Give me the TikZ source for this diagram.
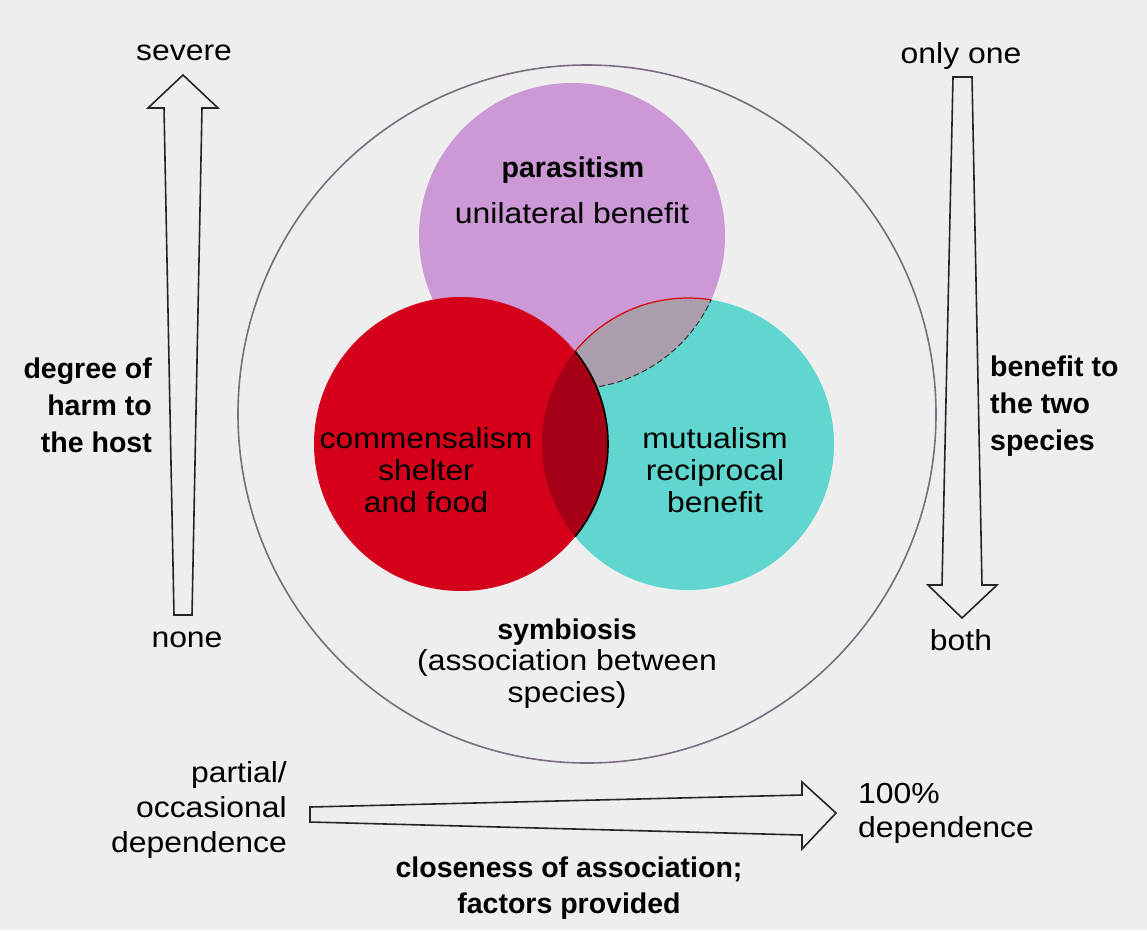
\documentclass[tikz,border=0pt]{standalone}
\usepackage{fontspec}
\setmainfont{Liberation Sans}
\newfontfamily\rf{Liberation Sans}[FakeStretch=1.1]
\definecolor{bg}{RGB}{238,238,238}
\definecolor{purp}{RGB}{204,153,214}
\definecolor{grayov}{RGB}{170,158,172}
\definecolor{redc}{RGB}{213,0,26}
\definecolor{cyanc}{RGB}{96,214,206}
\definecolor{darkred}{RGB}{165,0,22}
\definecolor{rimgray}{RGB}{120,110,125}
\begin{document}
\begin{tikzpicture}[x=1pt,y=-1pt,
  reg/.style={font=\rf\fontsize{29}{32}\selectfont, inner sep=0pt, align=center},
  bld/.style={font=\fontsize{28.5}{37}\bfseries\selectfont, inner sep=0pt, align=center},
  hollow/.style={draw=black!85, line width=1.6pt, fill=bg, line join=miter},
  rim/.style={draw=rimgray, line width=1.6pt}]
\useasboundingbox (0,0) rectangle (1147,930);
\fill[bg] (0,0) rectangle (1147,930);
% centres
\coordinate (cbig) at (587,414);
\coordinate (cpar) at (572,236);
\coordinate (ccom) at (461,444);
\coordinate (cmut) at (688,444);
% outer circle
\draw[rim] (cbig) circle[radius=349];
% parasitism and mutualism
\fill[purp] (cpar) circle[radius=153];
\fill[cyanc] (cmut) circle[radius=146];
\begin{scope}
  \clip (cpar) circle[radius=153];
  \fill[grayov] (cmut) circle[radius=146];
  \draw[red!85!black, line width=1.2pt] (cmut) circle[radius=146];
\end{scope}
\begin{scope}
  \clip (cmut) circle[radius=146];
  \draw[black!80, line width=1pt, dash pattern=on 6pt off 3pt] (cpar) circle[radius=153];
\end{scope}
% commensalism
\fill[redc] (ccom) circle[radius=147];
\begin{scope}
  \clip (ccom) circle[radius=147];
  \fill[darkred] (cmut) circle[radius=146];
\end{scope}
\begin{scope}
  \clip (cmut) circle[radius=146];
  \draw[black, line width=1.6pt] (ccom) circle[radius=147];
\end{scope}
% circle texts
\node[bld] (par) at (573,170) {parasitism};
\node[reg] (parb) at (572,213) {unilateral benefit};
\node[reg] (com) at (426,470) {commensalism\\shelter\\and food};
\node[reg] (mut) at (715,470) {mutualism\\reciprocal\\benefit};
\node[bld] (sym) at (567,632) {symbiosis};
\node[reg] (symb) at (567,679) {(association between\\species)};
% left arrow
\draw[hollow] (174,615) -- (192,615) -- (202,108) -- (218,108) -- (183,75)
  -- (148,108) -- (164,108) -- cycle;
\node[reg] (sev) at (184,53) {severe};
\node[reg] (non) at (187,640) {none};
\node[bld, anchor=east, align=right] (harm) at (152,405) {degree of\\harm to\\the host};
% right arrow
\draw[hollow] (953,77) -- (972,77) -- (982,585) -- (997,585) -- (962,618)
  -- (928,585) -- (942,585) -- cycle;
\node[reg] (one) at (961,56) {only one};
\node[reg] (both) at (961,640) {both};
\node[bld, anchor=west, align=left] (ben) at (990,406) {benefit to\\the two\\species};
% bottom arrow
\draw[hollow] (310,807) -- (310,822) -- (802,835) -- (802,849) -- (836,813)
  -- (802,782) -- (802,795) -- cycle;
\node[reg, anchor=east, align=right, font=\rf\fontsize{29}{35}\selectfont] (part) at (287,810) {partial/\\occasional\\dependence};
\node[reg, anchor=west, align=left, font=\rf\fontsize{29}{34}\selectfont] (full) at (858,813) {100\%\\dependence};
\node[bld, font=\fontsize{28.5}{36}\bfseries\selectfont] (close) at (569,888) {closeness of association;\\factors provided};
\end{tikzpicture}
\end{document}
